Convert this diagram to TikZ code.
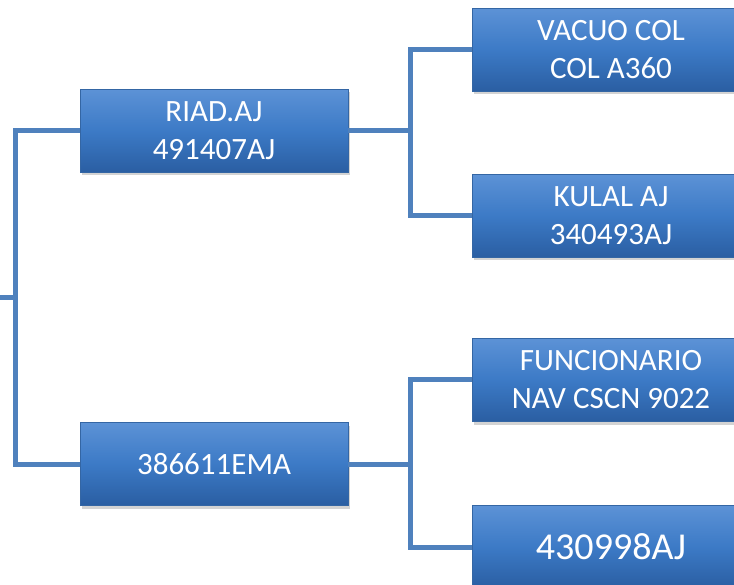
\documentclass[tikz,border=0pt]{standalone}
\usepackage{fontspec}
\setmainfont{Carlito}
\usetikzlibrary{shadows}
\definecolor{conncol}{RGB}{79,129,189}
\definecolor{boxtop}{RGB}{92,146,214}
\definecolor{boxmid}{RGB}{60,122,198}
\definecolor{boxbot}{RGB}{42,94,162}
\definecolor{boxedge}{RGB}{52,102,164}
\tikzset{
  orgbox/.style={rectangle, minimum width=268pt, minimum height=83pt, inner sep=2pt,
    top color=boxtop, bottom color=boxbot, middle color=boxmid, draw=boxedge, line width=0.6pt,
    text=white, align=center, font=\fontsize{31}{38}\selectfont,
    drop shadow={shadow xshift=2pt, shadow yshift=-3pt, opacity=0.35}},
  rightbox/.style={orgbox, minimum width=278pt},
  conn/.style={draw=conncol, line width=5pt}
}
\begin{document}
\begin{tikzpicture}[x=1pt, y=-1pt]
\useasboundingbox (0,0) rectangle (734,585);
\clip (0,0) rectangle (734,585);
% nodes
\node[orgbox] (r1) at (214,131) {RIAD.AJ\\491407AJ};
\node[orgbox] (r2) at (214,464) {386611EMA};
\node[rightbox] (c1) at (611,50) {VACUO COL\\COL A360};
\node[rightbox] (c2) at (611,216) {KULAL AJ\\340493AJ};
\node[rightbox] (c3) at (611,380) {FUNCIONARIO\\NAV CSCN 9022};
\node[rightbox, font=\fontsize{38}{44}\selectfont] (c4) at (611,547) {430998AJ};
% junctions
\coordinate (root) at (-5,298);
\coordinate (j0) at (15,298);
\coordinate (j1) at (410,131);
\coordinate (j2) at (410,464);
% connectors
\draw[conn] (root) -- (j0);
\draw[conn] (j0) |- (r1.west);
\draw[conn] (j0) |- (r2.west);
\draw[conn] (r1.east) -- (j1);
\draw[conn] (j1) |- (c1.west);
\draw[conn] (j1) |- (c2.west);
\draw[conn] (r2.east) -- (j2);
\draw[conn] (j2) |- (c3.west);
\draw[conn] (j2) |- (c4.west);
\end{tikzpicture}
\end{document}
